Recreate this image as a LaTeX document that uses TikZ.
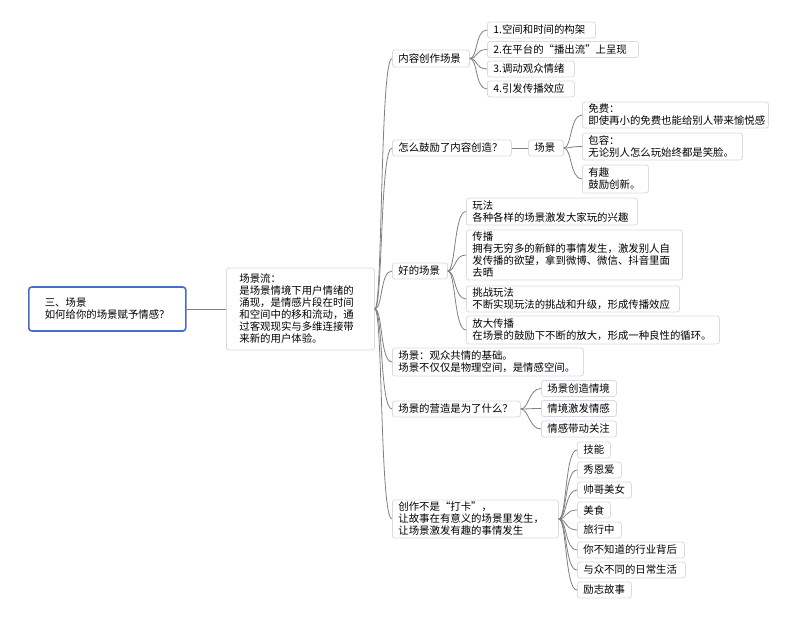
\documentclass[tikz,border=0pt]{standalone}
\usepackage{fontspec}
\newfontfamily\cjk{Noto Sans CJK SC}
\definecolor{boxc}{RGB}{218,218,230}
\definecolor{linec}{RGB}{128,128,128}
\definecolor{rootc}{RGB}{72,108,204}
\newcommand\myconn[2]{\draw[conn] (#1.east) .. controls +(8,0) and +(-12,0) .. (#2.west);}
\begin{document}
\begin{tikzpicture}[x=1pt,y=-1pt,
  box/.style={draw=boxc, fill=white, rounded corners=2.5pt, inner xsep=6pt, inner ysep=2pt,
    align=left, anchor=west, font=\cjk\fontsize{10.4}{12}\selectfont, line width=0.8pt, minimum height=16pt},
  conn/.style={draw=linec, line width=0.8pt}]
\useasboundingbox[fill=white] (0,0) rectangle (800,617);

% root and summary
\node[box, text width=125pt, inner xsep=16pt, minimum height=44pt, draw=rootc, line width=1.6pt, rounded corners=3pt] (root) at (28,309) {三、场景\\如何给你的场景赋予情感？};
\node[box, text width=122pt, inner xsep=13pt, minimum height=82pt] (flow) at (226,309) {场景流：\\是场景情境下用户情绪的\\涌现，是情感片段在时间\\和空间中的移和流动，通\\过客观现实与多维连接带\\来新的用户体验。};

% level 2
\node[box, text width=65pt, minimum height=17pt] (n1) at (392,58.5) {内容创作场景};
\node[box, text width=107pt] (n2) at (392,148) {怎么鼓励了内容创造？};
\node[box, text width=23pt] (mid) at (528,148) {场景};
\node[box, text width=43pt] (n3) at (392,271) {好的场景};
\node[box, text width=179pt, minimum height=28pt] (n4) at (392,362) {场景：观众共情的基础。\\场景不仅仅是物理空间，是情感空间。};
\node[box, text width=116pt] (n5) at (392,409) {场景的营造是为了什么？};
\node[box, text width=154pt, minimum height=38pt] (n6) at (392,519) {创作不是“打卡”，\\让故事在有意义的场景里发生，\\让场景激发有趣的事情发生};

% n1 children
\node[box, text width=96pt] (c11) at (487,30) {1.空间和时间的构架};
\node[box, text width=139pt] (c12) at (487,49.5) {2.在平台的“播出流”上呈现};
\node[box, text width=75pt] (c13) at (487,69) {3.调动观众情绪};
\node[box, text width=75pt] (c14) at (487,89) {4.引发传播效应};

% mid children
\node[box, text width=174pt, minimum height=26pt] (c21) at (582,115) {免费：\\即使再小的免费也能给别人带来愉悦感};
\node[box, text width=148pt, minimum height=27pt] (c22) at (582,146.5) {包容：\\无论别人怎么玩始终都是笑脸。};
\node[box, text width=54pt, minimum height=28pt] (c23) at (582,179) {有趣\\鼓励创新。};

% n3 children
\node[box, text width=159pt, minimum height=27pt] (c31) at (466,211.5) {玩法\\各种各样的场景激发大家玩的兴趣};
\node[box, text width=204pt, minimum height=50pt] (c32) at (466,255) {传播\\拥有无穷多的新鲜的事情发生，激发别人自\\发传播的欲望，拿到微博、微信、抖音里面\\去晒};
\node[box, text width=201pt, minimum height=26pt] (c33) at (466,299) {挑战玩法\\不断实现玩法的挑战和升级，形成传播效应};
\node[box, text width=241pt, minimum height=28pt] (c34) at (466,330) {放大传播\\在场景的鼓励下不断的放大，形成一种良性的循环。};

% n5 children
\node[box, text width=63pt] (c51) at (541,388.5) {场景创造情境};
\node[box, text width=63pt] (c52) at (541,408.5) {情境激发情感};
\node[box, text width=63pt] (c53) at (541,429) {情感带动关注};

% n6 children
\node[box, text width=21pt] (c61) at (577,450) {技能};
\node[box, text width=32pt] (c62) at (577,470) {秀恩爱};
\node[box, text width=42pt] (c63) at (577,490) {帅哥美女};
\node[box, text width=21pt] (c64) at (577,510) {美食};
\node[box, text width=32pt] (c65) at (577,530) {旅行中};
\node[box, text width=95pt] (c66) at (577,550) {你不知道的行业背后};
\node[box, text width=96pt] (c67) at (577,570) {与众不同的日常生活};
\node[box, text width=42pt] (c68) at (577,590) {励志故事};

% connectors
\draw[conn] (root.east) -- (flow.west);
\foreach \c in {n1,n2,n3,n4,n5,n6} {\myconn{flow}{\c}}
\foreach \c in {c11,c12,c13,c14} {\myconn{n1}{\c}}
\draw[conn] (n2.east) -- (mid.west);
\foreach \c in {c21,c22,c23} {\myconn{mid}{\c}}
\foreach \c in {c31,c32,c33,c34} {\myconn{n3}{\c}}
\foreach \c in {c51,c52,c53} {\myconn{n5}{\c}}
\foreach \c in {c61,c62,c63,c64,c65,c66,c67,c68} {\myconn{n6}{\c}}
\end{tikzpicture}
\end{document}
